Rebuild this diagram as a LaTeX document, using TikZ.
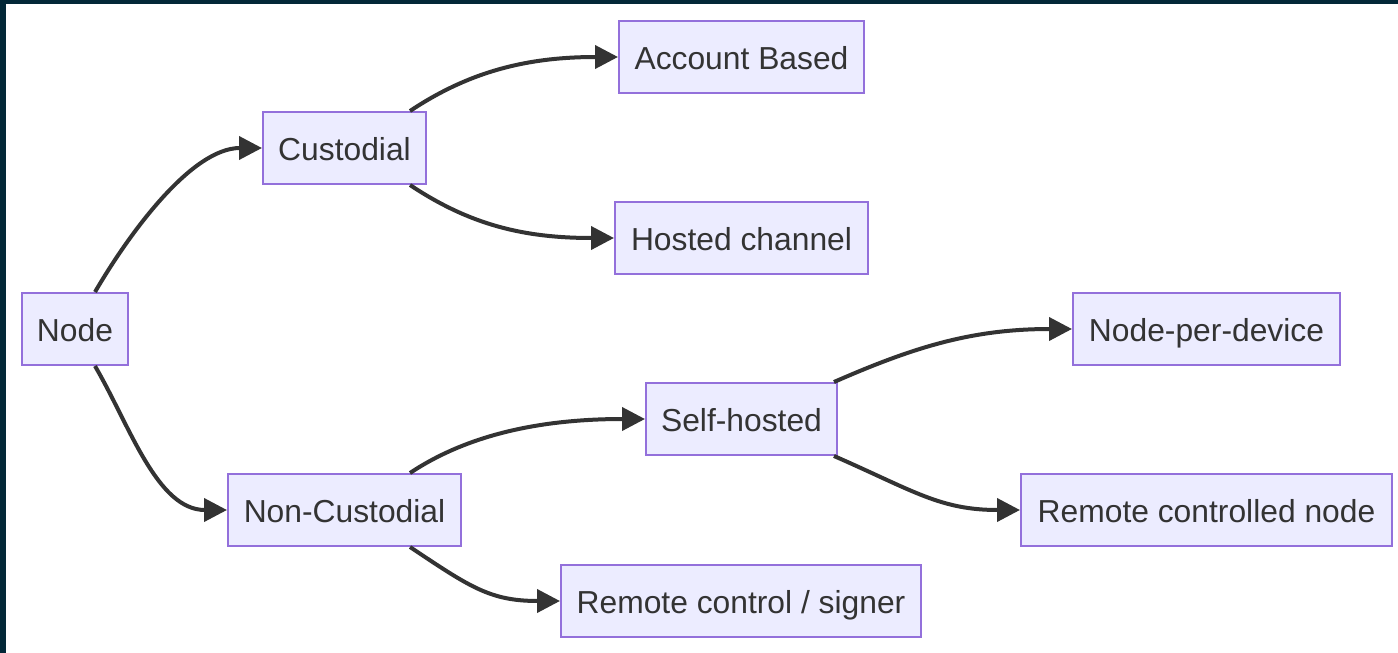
\documentclass[tikz,border=0pt]{standalone}
\usepackage{fontspec}
\setmainfont{Liberation Sans}
\usetikzlibrary{arrows.meta}
\definecolor{frame}{RGB}{3,40,56}
\definecolor{boxfill}{HTML}{ECECFF}
\definecolor{boxdraw}{HTML}{9370DB}
\definecolor{ink}{HTML}{333333}
\begin{document}
\begin{tikzpicture}[x=1pt,y=-1pt,
  box/.style={draw=boxdraw,fill=boxfill,line width=2pt,inner sep=0pt,minimum height=72pt,
    text=ink,font=\fontsize{31.8}{36}\selectfont,text height=24pt,text depth=0pt},
  edge/.style={draw=ink,line width=4pt,-{Triangle[length=23pt,width=23pt]}}]
\fill[frame] (0,0) rectangle (1398,653);
\fill[white] (6,4) rectangle (1398,653);
\useasboundingbox (0,0) rectangle (1398,653);
\node[box,minimum width=106pt] (node) at (75,329) {Node};
\node[box,minimum width=163pt] (cust) at (344.5,148) {Custodial};
\node[box,minimum width=245pt] (acct) at (741.5,57) {Account Based};
\node[box,minimum width=253pt] (host) at (741.5,238) {Hosted channel};
\node[box,minimum width=233pt] (ncust) at (344.5,510) {Non-Custodial};
\node[box,minimum width=191pt] (self) at (741.5,419) {Self-hosted};
\node[box,minimum width=360pt] (rcs) at (741,601) {Remote control / signer};
\node[box,minimum width=267pt] (npd) at (1206.5,329) {Node-per-device};
\node[box,minimum width=371pt] (rcn) at (1206.5,510) {Remote controlled node};
\draw[edge] ([xshift=20pt]node.north) .. controls +(35,-60) and +(-70,0) .. (cust.west);
\draw[edge] ([xshift=20pt]node.south) .. controls +(35,60) and +(-70,0) .. (ncust.west);
\draw[edge] ([xshift=65.5pt]cust.north) .. controls +(60,-40) and +(-90,0) .. (acct.west);
\draw[edge] ([xshift=65.5pt]cust.south) .. controls +(60,40) and +(-90,0) .. (host.west);
\draw[edge] ([xshift=65.5pt]ncust.north) .. controls +(60,-40) and +(-100,0) .. (self.west);
\draw[edge] ([xshift=65.5pt]ncust.south) .. controls +(60,40) and +(-70,0) .. (rcs.west);
\draw[edge] ([xshift=92.5pt]self.north) .. controls +(80,-35) and +(-100,0) .. (npd.west);
\draw[edge] ([xshift=92.5pt]self.south) .. controls +(80,35) and +(-80,0) .. (rcn.west);
\end{tikzpicture}
\end{document}
